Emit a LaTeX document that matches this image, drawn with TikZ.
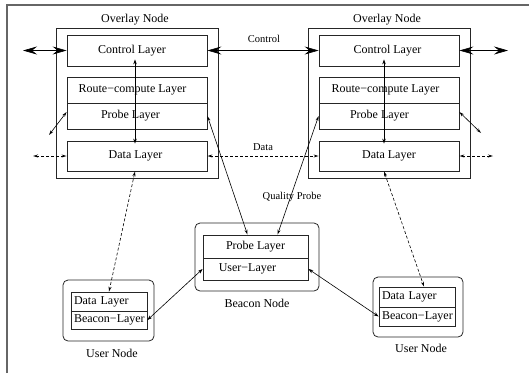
\documentclass[tikz,border=0pt]{standalone}
\usepackage{fontspec}
\setmainfont{Liberation Serif}
\usetikzlibrary{arrows.meta,calc}
\newcommand{\txtleft}[2]{\hspace*{-#1pt}\hspace*{-#1pt}#2}
\begin{document}
\begin{tikzpicture}[x=1pt,y=-1pt,
  font=\fontsize{12}{14}\selectfont,
  outerbox/.style={draw=black!85,line width=0.9pt,minimum width=162,minimum height=150,inner sep=0pt},
  layerbox/.style={draw=black!85,line width=0.8pt,minimum width=140,inner sep=0pt},
  userbox/.style={draw=black!85,line width=0.8pt,text width=70,inner xsep=3,inner ysep=0pt,align=left},
  roundbox/.style={draw=black!85,line width=0.8pt,rounded corners=5pt,inner sep=0pt},
  lbl/.style={font=\fontsize{10.5}{12}\selectfont,inner sep=0pt},
  bighead/.style={line width=0.6pt,{Stealth[length=14pt,width=8pt,inset=5pt]}-{Stealth[length=14pt,width=8pt,inset=5pt]}},
  fillhead/.style={line width=0.6pt,{Stealth[length=5pt,width=3.5pt]}-{Stealth[length=5pt,width=3.5pt]}},
  openhead/.style={line width=0.6pt,{Stealth[open,length=5pt,width=3pt]}-{Stealth[open,length=5pt,width=3pt]}},
  dsh/.style={dash pattern=on 3pt off 2pt}]
\useasboundingbox (0,0) rectangle (529,373);
% frame
\draw[black!60,line width=1.2pt] (7,373) -- (7,5) -- (529,5);

% left overlay node
\node[outerbox] (ovL) at (137,103) {};
\node[inner sep=0pt] (ovLt) at (135,20) {Overlay Node};
\node[layerbox,minimum height=31] (ctlL) at (137,50.5) {\txtleft{5}{Control Layer}};
\node[layerbox,minimum height=26] (rcL) at (137,90) {\txtleft{4.5}{Route−compute Layer}};
\node[layerbox,minimum height=26] (probeL) at (137,116) {\txtleft{6.5}{Probe Layer}};
\node[layerbox,minimum height=30] (dataL) at (137,156) {\txtleft{1.5}{Data Layer}};

% right overlay node
\node[outerbox] (ovR) at (389,103) {};
\node[inner sep=0pt] (ovRt) at (387,20) {Overlay Node};
\node[layerbox,minimum height=31] (ctlR) at (389,50.5) {\txtleft{1.5}{Control Layer}};
\node[layerbox,minimum height=26] (rcR) at (389,90) {\txtleft{3.5}{Route−compute Layer}};
\node[layerbox,minimum height=26] (probeR) at (389,116) {\txtleft{9.5}{Probe Layer}};
\node[layerbox,minimum height=30] (dataR) at (389,156) {Data Layer};

% beacon node
\node[roundbox,minimum width=124,minimum height=68] (bcn) at (257,257) {};
\node[layerbox,minimum width=105,minimum height=23] (probeB) at (255.5,246.5) {Probe Layer};
\node[layerbox,minimum width=105,minimum height=22] (userB) at (255.5,269) {\txtleft{8}{User−Layer}};
\node[inner sep=0pt] (bcnt) at (257,303) {Beacon Node};

% left user node
\node[roundbox,minimum width=91,minimum height=61] (unL) at (108.5,310.5) {};
\node[userbox,minimum height=19] (dataUL) at (109,301.5) {Data Layer};
\node[userbox,minimum height=18] (beaconUL) at (109,320) {Beacon−Layer};
\node[inner sep=0pt] (unLt) at (112,353) {User Node};

% right user node
\node[roundbox,minimum width=90,minimum height=60] (unR) at (418,307) {};
\node[userbox,minimum height=20] (dataUR) at (417,297) {Data Layer};
\node[userbox,minimum height=19] (beaconUR) at (417,316.5) {Beacon−Layer};
\node[inner sep=0pt] (unRt) at (421,348) {User Node};

% free ends
\coordinate (cL) at (23,50.5);
\coordinate (cR) at (508,50.5);
\coordinate (dL) at (33,156);
\coordinate (dR) at (493,156);
\coordinate (pL) at (49,135);
\coordinate (pR) at (481,133);

% control arrows
\draw[bighead] (cL) -- (ctlL.west);
\draw[bighead] (ctlL.east) -- (ctlR.west);
\node[lbl] (ctltxt) at (264,39) {Control};
\draw[bighead] (ctlR.east) -- (cR);

% vertical internal arrows
\draw[fillhead] ($(ctlL.south)+(-2,-7)$) -- ($(dataL.north)+(-2,3)$);
\draw[fillhead] ($(ctlR.south)+(-5,-7)$) -- ($(dataR.north)+(-5,3)$);

% data dashed arrows
\draw[openhead,dsh] (dL) -- (dataL.west);
\draw[openhead,dsh] (dataL.east) -- (dataR.west);
\node[lbl] (datatxt) at (263,147) {Data};
\draw[openhead,dsh] (dataR.east) -- (dR);

% probe diagonals
\draw[openhead] (pL) -- ($(probeL.west)+(0,-4)$);
\draw[openhead] ($(probeR.east)+(0,-4)$) -- (pR);

% quality probe
\draw[openhead] (probeL.east) -- ($(probeB.north)+(-8,0)$);
\draw[openhead] (probeR.west) -- ($(probeB.north)+(22,0)$);
\node[lbl] (qptxt) at (292,197) {Quality Probe};

% data to user nodes
\draw[openhead,dsh] ($(dataL.south)+(-2,0)$) -- (dataUL.north);
\draw[openhead,dsh] ($(dataR.south)+(-5,0)$) -- ($(dataUR.north)+(7,0)$);

% beacon to user
\draw[fillhead] (beaconUL.east) -- (userB.west);
\draw[fillhead] (userB.east) -- (beaconUR.west);
\end{tikzpicture}
\end{document}
